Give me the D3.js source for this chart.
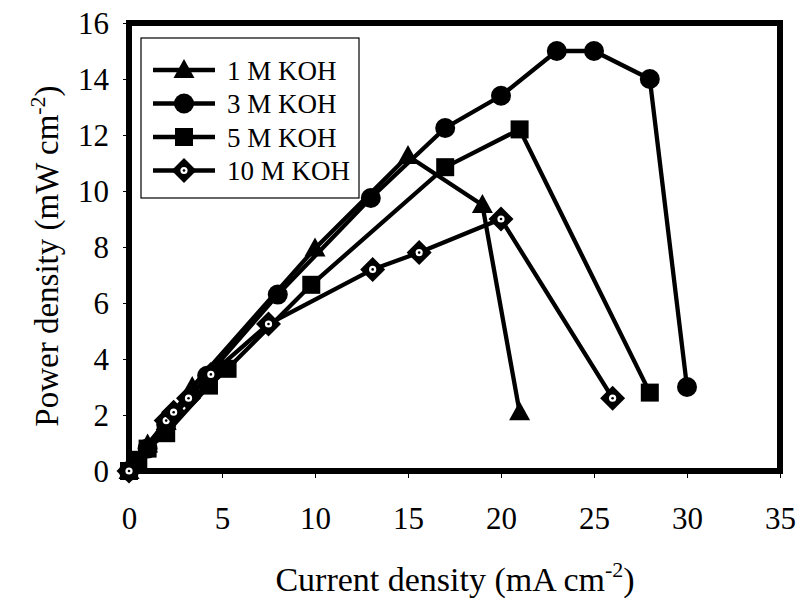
<!DOCTYPE html>
<html>
<head>
<meta charset="utf-8">
<script src="https://cdn.jsdelivr.net/npm/d3@7"></script>
<style>
  body { margin: 0; background: #fff; }
  svg text { font-family: "Liberation Serif", Tinos, "Times New Roman", Times, serif; fill: #000; }
</style>
</head>
<body>
<div id="chart"></div>
<script>
// current density (mA cm-2) and power density (mW cm-2)
const koh1X = [0, 1, 2, 3.4, 10, 15, 19, 21];
const koh1Y = [0, 0.95, 1.75, 3.0, 7.95, 11.25, 9.5, 2.1];
const koh3X = [0, 1, 2, 4.2, 8, 13, 17, 20, 23, 25, 28, 30];
const koh3Y = [0, 0.8, 1.65, 3.4, 6.3, 9.75, 12.25, 13.4, 15.0, 15.0, 14.0, 3.0];
const koh5X = [0, 0.5, 1, 2, 4.3, 5.3, 9.8, 17, 21, 28];
const koh5Y = [0, 0.4, 0.8, 1.35, 3.05, 3.65, 6.65, 10.85, 12.2, 2.8];
const koh10X = [0, 2, 2.4, 3.2, 4.4, 7.5, 13.1, 15.6, 20, 26];
const koh10Y = [0, 1.8, 2.1, 2.6, 3.45, 5.25, 7.2, 7.8, 9.0, 2.6];

const seriesNames = ['1 M KOH', '3 M KOH', '5 M KOH', '10 M KOH'];
const xTicks = [0, 5, 10, 15, 20, 25, 30, 35];
const yTicks = [0, 2, 4, 6, 8, 10, 12, 14, 16];

const serif = '"Liberation Serif", Tinos, "Times New Roman", Times, serif';

const width = 800, height = 600;
const margin = { top: 23, right: 20, bottom: 129, left: 129 };
const plotW = 780 - margin.left;
const plotH = 471 - margin.top;

const svg = d3.select('#chart')
  .append('svg')
  .attr('width', width)
  .attr('height', height)
  .attr('font-family', serif);

const g = svg.append('g')
  .attr('transform', `translate(${margin.left},${margin.top})`);

const x = d3.scaleLinear().domain([0, 35]).range([0, plotW]);
const y = d3.scaleLinear().domain([0, 16]).range([plotH, 0]);

// axes: short outward ticks, labels in large serif type
const xAxis = g.append('g')
  .attr('transform', `translate(0,${plotH})`)
  .call(d3.axisBottom(x).tickValues(xTicks).tickSize(7).tickPadding(29));
const yAxis = g.append('g')
  .call(d3.axisLeft(y).tickValues(yTicks).tickSize(6).tickPadding(14));

[xAxis, yAxis].forEach(ax => {
  ax.attr('font-family', serif);
  ax.select('.domain').remove();
  ax.selectAll('line').attr('stroke', '#000').attr('stroke-width', 1);
  ax.selectAll('text').attr('font-size', 31);
});
yAxis.selectAll('text').attr('dy', '0.34em');

// plot frame
g.append('rect')
  .attr('x', 0).attr('y', 0)
  .attr('width', plotW).attr('height', plotH)
  .attr('fill', 'none')
  .attr('stroke', '#000')
  .attr('stroke-width', 6);

const series = [
  { name: seriesNames[0], xs: koh1X, ys: koh1Y, shape: 'triangle' },
  { name: seriesNames[1], xs: koh3X, ys: koh3Y, shape: 'circle' },
  { name: seriesNames[2], xs: koh5X, ys: koh5Y, shape: 'square' },
  { name: seriesNames[3], xs: koh10X, ys: koh10Y, shape: 'diamond' }
];

function drawMarker(sel, shape) {
  if (shape === 'circle') {
    sel.append('circle').attr('r', 10).attr('fill', '#000');
  } else if (shape === 'square') {
    sel.append('rect').attr('x', -9).attr('y', -9)
      .attr('width', 18).attr('height', 18).attr('fill', '#000');
  } else if (shape === 'triangle') {
    sel.append('path').attr('d', 'M0,-11L10.5,8L-10.5,8Z').attr('fill', '#000');
  } else {
    sel.append('path').attr('d', 'M0,-12.5L12.5,0L0,12.5L-12.5,0Z').attr('fill', '#000');
    sel.append('circle').attr('r', 3.6).attr('fill', '#fff');
    sel.append('circle').attr('r', 1.3).attr('fill', '#000');
  }
}

const line = d3.line().x(d => x(d[0])).y(d => y(d[1]));

series.forEach(s => {
  const pts = s.xs.map((v, i) => [v, s.ys[i]]);
  g.append('path')
    .datum(pts)
    .attr('fill', 'none')
    .attr('stroke', '#000')
    .attr('stroke-width', 4.3)
    .attr('d', line);
  g.selectAll(null)
    .data(pts)
    .enter()
    .append('g')
    .attr('transform', d => `translate(${x(d[0])},${y(d[1])})`)
    .each(function () { drawMarker(d3.select(this), s.shape); });
});

// legend
const legend = svg.append('g').attr('transform', 'translate(141,38)');
legend.append('rect')
  .attr('x', 0).attr('y', 0)
  .attr('width', 218).attr('height', 160)
  .attr('fill', '#fff')
  .attr('stroke', '#000')
  .attr('stroke-width', 1.2);

const legendItem = legend.selectAll('.legend-item')
  .data(series)
  .enter()
  .append('g')
  .attr('class', 'legend-item')
  .attr('transform', (d, i) => `translate(0,${32 + i * 33.5})`);

legendItem.append('line')
  .attr('x1', 12).attr('x2', 74)
  .attr('y1', 0).attr('y2', 0)
  .attr('stroke', '#000')
  .attr('stroke-width', 4.3);
legendItem.append('g')
  .attr('transform', 'translate(43,0)')
  .each(function (d) { drawMarker(d3.select(this), d.shape); });
legendItem.append('text')
  .attr('x', 86)
  .attr('y', 9.5)
  .attr('font-size', 27)
  .text(d => d.name);

// axis titles
const xTitle = svg.append('text')
  .attr('x', 455)
  .attr('y', 591)
  .attr('text-anchor', 'middle')
  .attr('font-size', 34);
xTitle.append('tspan').text('Current density (mA cm');
xTitle.append('tspan').attr('font-size', 22).attr('dy', -14).text('-2');
xTitle.append('tspan').attr('dy', 14).text(')');

const yTitle = svg.append('text')
  .attr('transform', 'translate(58,256) rotate(-90)')
  .attr('text-anchor', 'middle')
  .attr('font-size', 33);
yTitle.append('tspan').text('Power density (mW cm');
yTitle.append('tspan').attr('font-size', 22).attr('dy', -13).text('-2');
yTitle.append('tspan').attr('dy', 13).text(')');
</script>
</body>
</html>
